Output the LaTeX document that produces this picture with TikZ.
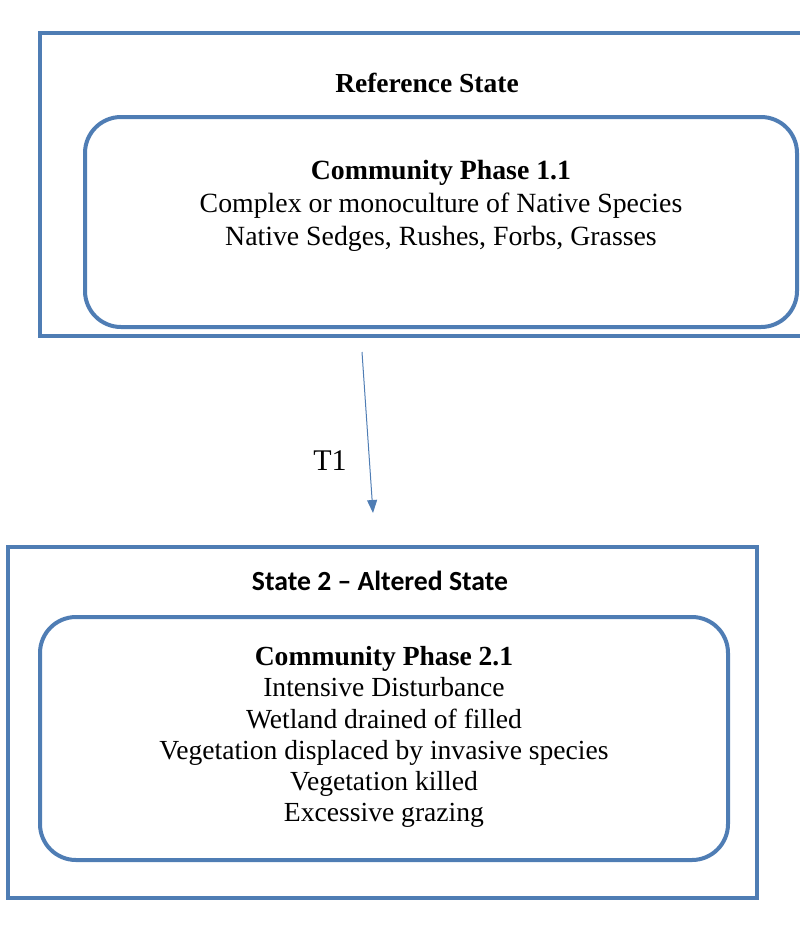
\documentclass[tikz,border=0pt]{standalone}
\usepackage{fontspec}
\setmainfont{Liberation Serif}
\newfontfamily\calib{Carlito}
\usetikzlibrary{arrows.meta}
\definecolor{stblue}{RGB}{79,125,180}
\tikzset{
  outerbox/.style={draw=stblue, line width=4pt, rectangle, inner sep=0pt},
  innerbox/.style={draw=stblue, line width=4pt, rectangle, rounded corners=36pt, inner sep=0pt},
  txtA/.style={align=center, inner sep=0pt, font=\fontsize{27.8}{33}\selectfont},
  txtB/.style={align=center, inner sep=0pt, font=\fontsize{27.6}{31.2}\selectfont},
  hd/.style={inner sep=0pt, font=\fontsize{27.5}{30}\selectfont\bfseries},
  hdB/.style={inner sep=0pt, font=\calib\bfseries\fontsize{27.7}{30}\selectfont},
  conn/.style={draw=stblue, line width=1pt, -{Triangle[length=13pt,width=10pt]}}
}
\begin{document}
\begin{tikzpicture}[x=1pt,y=-1pt]
\useasboundingbox (0,0) rectangle (800,927);
% state 1
\node[outerbox, minimum width=772pt, minimum height=303pt] (s1) at (426,184.5) {};
\node[hd] (s1t) at (427,83) {Reference State};
\node[innerbox, minimum width=712pt, minimum height=210pt] (p1) at (441,222) {};
\node[txtA] (p1t) at (441,206) {\textbf{Community Phase 1.1}\\Complex or monoculture of Native Species\\Native Sedges, Rushes, Forbs, Grasses};
% state 2
\node[outerbox, minimum width=749pt, minimum height=351pt] (s2) at (382.5,722.5) {};
\node[hdB] (s2t) at (380,581) {State 2 – Altered State};
\node[innerbox, minimum width=688pt, minimum height=243pt] (p2) at (384,738.5) {};
\node[txtB] (p2t) at (384,737) {\textbf{Community Phase 2.1}\\Intensive Disturbance\\Wetland drained of filled\\Vegetation displaced by invasive species\\Vegetation killed\\Excessive grazing};
% transition
\coordinate (a1) at (362,352);
\coordinate (a2) at (373,513);
\draw[conn] (a1) -- (a2);
\node[inner sep=0pt, font=\fontsize{30}{32}\selectfont] (t1) at (330,461) {T1};
\end{tikzpicture}
\end{document}
